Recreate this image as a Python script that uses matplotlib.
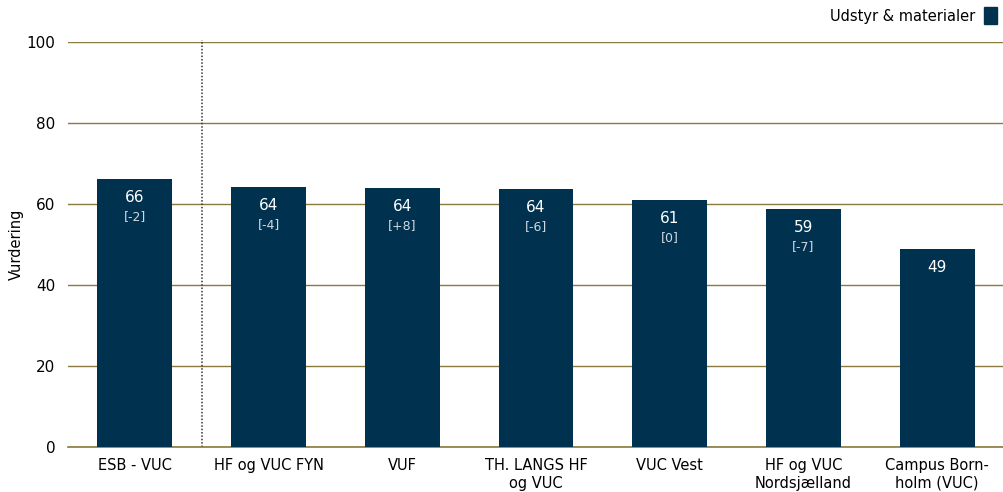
import numpy as np
import matplotlib.pyplot as plt
from matplotlib.patches import Patch

categories = ["ESB - VUC", "HF og VUC FYN", "VUF", "TH. LANGS HF\nog VUC",
              "VUC Vest", "HF og VUC\nNordsjælland", "Campus Born-\nholm (VUC)"]
values = [66.2, 64.2, 64.0, 63.7, 61.0, 58.8, 48.9]
labels = ["66", "64", "64", "64", "61", "59", "49"]
changes = ["[-2]", "[-4]", "[+8]", "[-6]", "[0]", "[-7]", ""]
yticks = [0, 20, 40, 60, 80, 100]

BAR = "#00324f"
GRID = "#8a7a3f"

fig = plt.figure(figsize=(10.04, 4.92), dpi=100)
ax = fig.add_axes([68 / 1004, 1 - 447 / 492, 936 / 1004, 405 / 492])

x = np.arange(len(categories))
ax.bar(x, values, width=0.56, color=BAR, zorder=3)

for xi, v, lab, ch in zip(x, values, labels, changes):
    ax.text(xi, v - 4.5, lab, ha="center", va="center", color="white", fontsize=11, zorder=4)
    if ch:
        ax.text(xi, v - 9.2, ch, ha="center", va="center", color="#d0d8e0", fontsize=9, zorder=4)

ax.axvline(0.5, ymin=0, ymax=1.005, color="#333333", linestyle=(0, (1, 1.2)), linewidth=1.1,
           zorder=2, clip_on=False)

ax.set_xlim(-0.5, 6.5)
ax.set_ylim(0, 100)
ax.set_yticks(yticks)
ax.set_xticks(x)
ax.set_xticklabels(categories, fontsize=10.5)
ax.tick_params(axis="y", labelsize=11, length=0, pad=9)
ax.tick_params(axis="x", length=0, pad=8)
ax.yaxis.grid(True, color=GRID, linewidth=1.0, zorder=1)
ax.set_axisbelow(True)
for s in ["top", "right", "left"]:
    ax.spines[s].set_visible(False)
ax.spines["bottom"].set_color(GRID)
ax.spines["bottom"].set_linewidth(1.2)
ax.set_ylabel("Vurdering", fontsize=10.5)
ax.yaxis.set_label_coords(-0.047, 0.5)

fig.legend(handles=[Patch(color=BAR)], labels=["Udstyr & materialer"], loc="upper right",
           bbox_to_anchor=(1.0, 1.0), frameon=False, fontsize=10.5, handlelength=0.9,
           handleheight=1.4, markerfirst=False, handletextpad=0.6, borderaxespad=0.2,
           borderpad=0.3)

fig.savefig("out.png", dpi=100)
